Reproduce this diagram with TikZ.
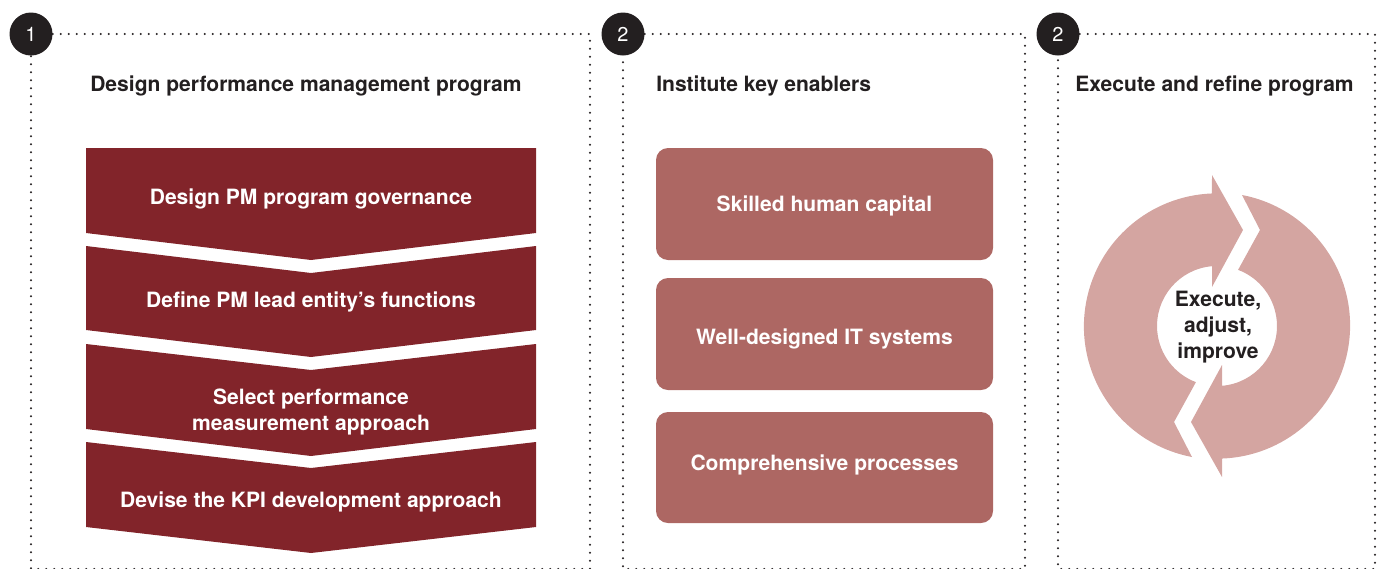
\documentclass[tikz,border=0pt]{standalone}
\usepackage{fontspec}
\setmainfont{TeX Gyre Heros}
\definecolor{ink}{HTML}{231F20}
\definecolor{wine}{HTML}{82242A}
\definecolor{rose}{HTML}{AD6763}
\definecolor{blush}{HTML}{D4A5A1}
\begin{document}
\begin{tikzpicture}[x=0.75pt,y=-0.75pt,
  dotline/.style={draw=ink, line width=1.7pt, line cap=round, dash pattern=on 0pt off 6pt},
  badge/.style={circle, fill=ink, minimum size=32.25pt, inner sep=0pt, text=white,
    font=\fontsize{15}{18}\selectfont},
  heading/.style={anchor=base west, text=ink, inner sep=0pt,
    font=\bfseries\fontsize{15.8}{18}\selectfont},
  capbox/.style={text height=11.3pt, text depth=0pt},
  chevron/.style={fill=wine},
  chevtext/.style={text=white, inner sep=0pt, align=center,
    font=\bfseries\fontsize{15.8}{19.3}\selectfont},
  enabler/.style={fill=rose, rounded corners=9pt},
  enablertext/.style={text=white, inner sep=0pt, capbox,
    font=\bfseries\fontsize{15.8}{18}\selectfont},
  loop/.style={fill=blush},
  looptext/.style={text=ink, inner sep=0pt, align=center,
    font=\bfseries\fontsize{15.8}{19.5}\selectfont}]

\useasboundingbox (0,0) rectangle (1385,568);

% ---------- panel frames and step badges ----------
\node[badge] (b1) at (31,34) {1};
\node[badge] (b2) at (623,34) {2};
\node[badge] (b3) at (1058,34) {2};

\coordinate (p1tr) at (590,34);  \coordinate (p1br) at (590,569);
\coordinate (p1bl) at (31,569);
\coordinate (p2tr) at (1025,34); \coordinate (p2br) at (1025,569);
\coordinate (p2bl) at (623,569);
\coordinate (p3tr) at (1375,34); \coordinate (p3br) at (1375,569);
\coordinate (p3bl) at (1058,569);

\draw[dotline] (b1.east) -- (p1tr) -- (p1br) -- (p1bl) -- (b1.south);
\draw[dotline] (b2.east) -- (p2tr) -- (p2br) -- (p2bl) -- (b2.south);
\draw[dotline] (b3.east) -- (p3tr) -- (p3br) -- (p3bl) -- (b3.south);

% ---------- headings ----------
\node[heading] (h1) at (90,91) {Design performance management program};
\node[heading] (h2) at (656,91) {Institute key enablers};
\node[heading] (h3) at (1075,91) {Execute and refine program};

% ---------- panel 1: stacked chevrons ----------
\fill[chevron] (86,148) -- (536,148) -- (536,233) -- (311,260) -- (86,233) -- cycle;
\fill[chevron] (86,246) -- (311,273) -- (536,246) -- (536,330) -- (311,357) -- (86,330) -- cycle;
\fill[chevron] (86,344) -- (311,370) -- (536,344) -- (536,429) -- (311,456) -- (86,429) -- cycle;
\fill[chevron] (86,442) -- (311,468) -- (536,442) -- (536,527) -- (311,553) -- (86,527) -- cycle;

\node[chevtext, capbox] (c1) at (311,196.5) {Design PM program governance};
\node[chevtext, capbox] (c2) at (311,300) {Define PM lead entity’s functions};
\node[chevtext] (c3) at (311,412) {Select performance\\measurement approach};
\node[chevtext, capbox] (c4) at (311,500) {Devise the KPI development approach};

% ---------- panel 2: enablers ----------
\fill[enabler] (656,148) rectangle (993,260);
\fill[enabler] (656,278) rectangle (993,390);
\fill[enabler] (656,412) rectangle (993,523);
\node[enablertext] (e1) at (824.5,203.5) {Skilled human capital};
\node[enablertext] (e2) at (824.5,337) {Well-designed IT systems};
\node[enablertext] (e3) at (824.5,462.5) {Comprehensive processes};

% ---------- panel 3: improvement loop ----------
\begin{scope}[xshift=912.75pt, yshift=-244.5pt, x=0.75pt, y=0.75pt]
  \foreach \r in {0,180}{
    \fill[loop, rotate=\r]
      (-5,151) -- (26,96) -- (-5,39) -- (-5,59.8)
      arc[start angle=94.8, end angle=249.4, radius=45pt]
      -- (-43,-96) -- (-25,-131)
      arc[start angle=259.2, end angle=92.15, radius=99.75pt]
      -- cycle;
  }
\end{scope}
\node[looptext] (loop) at (1218,327) {Execute,\\adjust,\\improve};

\end{tikzpicture}
\end{document}
